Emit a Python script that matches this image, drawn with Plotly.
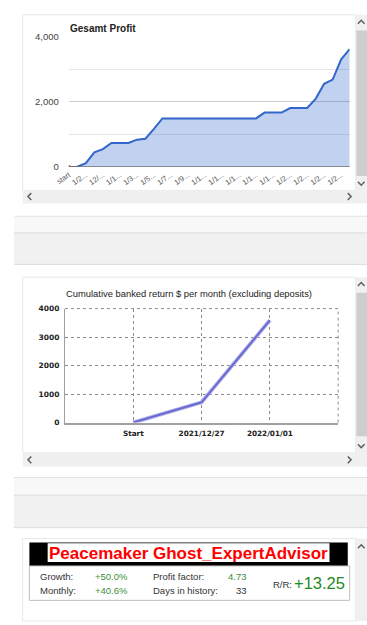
import plotly.graph_objects as go

W, H = 367, 625

# ---------------- data ----------------
profit_index = list(range(34))
profit_values = [0, 10, 120, 450, 550, 740, 740, 740, 840, 870, 1170, 1490,
                 1490, 1490, 1490, 1490, 1490, 1490, 1490, 1490, 1490, 1490, 1490,
                 1670, 1670, 1670, 1810, 1810, 1810, 2090, 2550, 2680, 3300, 3610]
profit_tick_pos = list(range(0, 34, 2))
profit_tick_labels = ["start", "1/2...", "12/...", "1/1...", "1/3...", "1/5...", "1/7...",
                      "1/9...", "1/1...", "1/1...", "1/1...", "1/1...", "1/1...",
                      "1/2...", "1/2...", "1/2...", "1/2..."]
profit_y_ticks = [0, 2000, 4000]

bank_categories = ["Start", "2021/12/27", "2022/01/01"]
bank_pos = [0, 1, 2]
bank_values = [0, 710, 3590]
bank_y_ticks = [0, 1000, 2000, 3000, 4000]

stats_labels_left = ["Growth:", "Monthly:"]
stats_values_left = ["+50.0%", "+40.6%"]
stats_labels_right = ["Profit factor:", "Days in history:"]
stats_values_right = ["4.73", "33"]
rr_value = "+13.25"
ea_title = "Peacemaker Ghost_ExpertAdvisor"


# ---------------- helpers ----------------
def X(x):
    return x / W


def Y(y):
    return 1 - y / H


shapes = []


def rect(x0, y0, x1, y1, fill, line=None, lw=1, layer="below"):
    shapes.append(dict(type="rect", xref="paper", yref="paper",
                       x0=X(x0), x1=X(x1), y0=Y(y1), y1=Y(y0),
                       fillcolor=fill,
                       line=dict(color=line or fill, width=lw if line else 0),
                       layer=layer))


def hline(y, x0, x1, color, lw=1, dash="solid", layer="below"):
    shapes.append(dict(type="line", xref="paper", yref="paper",
                       x0=X(x0), x1=X(x1), y0=Y(y), y1=Y(y),
                       line=dict(color=color, width=lw, dash=dash), layer=layer))


def path(pts, color="#606060", lw=1.5):
    d = "M " + " L ".join(f"{X(a):.5f},{Y(b):.5f}" for a, b in pts)
    shapes.append(dict(type="path", xref="paper", yref="paper", path=d,
                       line=dict(color=color, width=lw), layer="above"))


def up(cx, cy):
    path([(cx - 3.5, cy + 2), (cx, cy - 1.5), (cx + 3.5, cy + 2)])


def down(cx, cy):
    path([(cx - 3.5, cy - 2), (cx, cy + 1.5), (cx + 3.5, cy - 2)])


def left(cx, cy):
    path([(cx + 2, cy - 3.5), (cx - 1.5, cy), (cx + 2, cy + 3.5)])


def right(cx, cy):
    path([(cx - 2, cy - 3.5), (cx + 1.5, cy), (cx - 2, cy + 3.5)])


# ---------------- page background ----------------
rect(0, 0, W, H, "#ffffff")

# separator bands
for (l1, l2, l3) in [(214, 231, 263), (480, 498, 531)]:
    rect(0, l1, W, l2, "#f8f8f8")
    rect(0, l2, W, l3, "#f1f1f1")
    hline(l1, 0, W, "#e2e2e2")
    hline(l2, 0, W, "#dcdcdc")
    hline(l3, 0, W, "#dcdcdc")

# panel 1
rect(9, 9, 355, 188, "#ffffff", "#e8e8e8")
rect(355, 9, 367, 188, "#f0f0f0")
rect(356, 25, 367, 173, "#cdcdcd")
rect(9, 188, 367, 201, "#f0f0f0")
up(361, 16)
down(361, 181)
left(16, 194)
right(349, 194)

# panel 2
rect(9, 276, 355, 455, "#ffffff", "#e8e8e8")
rect(355, 276, 367, 455, "#f0f0f0")
rect(356, 292, 367, 438, "#cdcdcd")
rect(9, 455, 367, 469, "#f0f0f0")
up(361, 283)
down(361, 448)
left(16, 462)
right(349, 462)

# panel 3
rect(9, 542, 355, 626, "#ffffff", "#e8e8e8")
rect(355, 542, 367, 626, "#f0f0f0")
up(361, 550)
rect(16, 546, 347, 570, "#000000")
rect(35, 547, 328, 566, "#ffffff")
rect(16, 570, 349, 605, "#ffffff", "#bdbdbd", 1)

# ---------------- traces ----------------
fig = go.Figure()

fig.add_trace(go.Scatter(
    x=profit_index, y=profit_values, mode="lines",
    line=dict(color="#3366cc", width=2),
    fill="tozeroy", fillcolor="rgba(51,102,204,0.30)",
    xaxis="x", yaxis="y", showlegend=False, hoverinfo="skip"))
fig.add_trace(go.Scatter(
    x=[profit_index[0]], y=[profit_values[0]], mode="markers",
    marker=dict(color="#e0301e", size=4),
    xaxis="x", yaxis="y", showlegend=False, hoverinfo="skip"))

fig.add_trace(go.Scatter(
    x=bank_pos, y=bank_values, mode="lines",
    line=dict(color="#b8b8e8", width=4),
    xaxis="x2", yaxis="y2", showlegend=False, hoverinfo="skip"))
fig.add_trace(go.Scatter(
    x=bank_pos, y=bank_values, mode="lines",
    line=dict(color="#6a6ad4", width=2),
    xaxis="x2", yaxis="y2", showlegend=False, hoverinfo="skip"))

# ---------------- axes ----------------
fig.update_layout(
    width=W, height=H,
    margin=dict(l=0, r=0, t=0, b=0),
    paper_bgcolor="#ffffff", plot_bgcolor="rgba(0,0,0,0)",
    shapes=shapes,
    xaxis=dict(domain=[X(57), X(349)], range=[0, 33], anchor="y",
               tickvals=profit_tick_pos, ticktext=profit_tick_labels,
               tickangle=-35, tickfont=dict(family="Arial", size=7.5, color="#555"),
               showgrid=False, zeroline=False, showline=False, ticks="",
               ticklabelstandoff=1),
    yaxis=dict(domain=[Y(164), Y(31)], range=[0, 4000], anchor="x",
               tickvals=profit_y_ticks, tickformat=",",
               tickfont=dict(family="Arial", size=9.5, color="#444"),
               showgrid=True, gridcolor="#cccccc", gridwidth=1,
               minor=dict(dtick=1000, showgrid=True, gridcolor="#e6e6e6"),
               zeroline=False, showline=False, ticks="", ticklabelstandoff=9),
    xaxis2=dict(domain=[X(53), X(337)], range=[-1, 3], anchor="y2",
                tickvals=bank_pos, ticktext=bank_categories,
                tickfont=dict(family="DejaVu Sans", size=7.3, color="#222", weight="bold"),
                showgrid=True, gridcolor="#8c8c8c", griddash="dot", gridwidth=1,
                zeroline=False, showline=True, linecolor="#a0a0a0", linewidth=2,
                ticks="", ticklabelstandoff=3),
    yaxis2=dict(domain=[Y(424), Y(308)], range=[0, 4000], anchor="x2",
                tickvals=bank_y_ticks,
                tickfont=dict(family="DejaVu Sans", size=7.5, color="#222", weight="bold"),
                showgrid=True, gridcolor="#8c8c8c", griddash="dot", gridwidth=1,
                zeroline=False, showline=True, linecolor="#a0a0a0", linewidth=1,
                ticks="", ticklabelstandoff=3),
)

# baseline of panel 1 and right/top border of panel 2
fig.add_shape(type="line", xref="x domain", yref="y", x0=0, x1=1, y0=0, y1=0,
              line=dict(color="#707070", width=1.5), layer="above")
fig.add_shape(type="line", xref="x2 domain", yref="y2 domain", x0=1, x1=1, y0=0, y1=1,
              line=dict(color="#8c8c8c", width=1, dash="dot"))
fig.add_shape(type="line", xref="x2 domain", yref="y2 domain", x0=0, x1=1, y0=1, y1=1,
              line=dict(color="#8c8c8c", width=1, dash="dot"))

# ---------------- text ----------------
ann = []


def text(x, y, s, size=10, color="#333", family="Arial", xanchor="left", bold=False):
    ann.append(dict(xref="paper", yref="paper", x=X(x), y=Y(y), text=(f"<b>{s}</b>" if bold else s),
                    showarrow=False, xanchor=xanchor, yanchor="middle",
                    font=dict(size=size, color=color, family=family)))


text(56, 23, "Gesamt Profit", size=10, color="#222", bold=True)
text(182, 293, "Cumulative banked return $ per month (excluding deposits)", size=9.4, color="#222",
     xanchor="center")
text(181, 557, ea_title, size=17, color="#ff0000", bold=True, xanchor="center")

rows_y = [581, 595]
for i in range(2):
    text(25, rows_y[i], stats_labels_left[i], size=9.5, color="#333")
    text(82, rows_y[i], stats_values_left[i], size=9.5, color="#3a8f3a")
    text(142, rows_y[i], stats_labels_right[i], size=9.5, color="#333")
    text(244, rows_y[i], stats_values_right[i], size=9.5,
         color="#3a8f3a" if i == 0 else "#333", xanchor="right")
text(267, 589, "R/R:", size=9.5, color="#333")
text(289, 587, rr_value, size=16.5, color="#1e8a1e")

fig.update_layout(annotations=ann)

fig.write_html("out.html")
